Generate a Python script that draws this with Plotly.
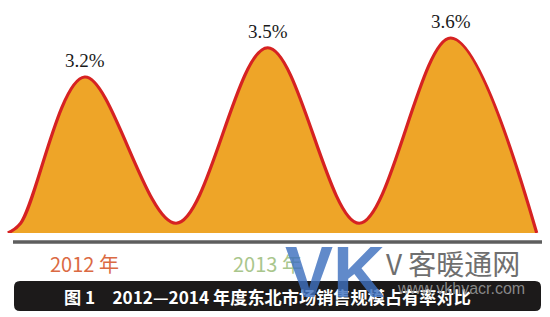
import plotly.graph_objects as go

# ---- data ----
years = ["2012 年", "2013 年", "2014 年"]
shares = [3.2, 3.5, 3.6]
share_labels = ["3.2%", "3.5%", "3.6%"]
year_colors = ["#DB6A43", "#A9C68C", "#6E9FD0"]
caption = "图 1　2012—2014 年度东北市场销售规模占有率对比"

# decorative wave anchors (category-unit positions and value levels)
wave_start, wave_end = -0.42, 2.47
foot_x, foot_level = -0.35, 1.70
trough_level = 1.70
base_level = 1.60

# ---- build wave through the data peaks ----
xs = [wave_start, foot_x]
ys = [base_level, foot_level]
for i, v in enumerate(shares):
    xs.append(i)
    ys.append(v)
    if i < len(shares) - 1:
        xs.append(i + 0.5)
        ys.append(trough_level)
xs.append(wave_end)
ys.append(base_level)

W, H = 550, 317

def px(x):
    return x / W

def py(y):
    return 1 - y / H

fig = go.Figure()
fig.add_trace(go.Scatter(
    x=xs, y=ys, mode="lines",
    line=dict(color="#D62222", width=3.2, shape="spline", smoothing=1.0),
    fill="tozeroy", fillcolor="#EEA528",
    hoverinfo="skip", showlegend=False,
))

annotations = []
for i, (v, lab) in enumerate(zip(shares, share_labels)):
    annotations.append(dict(
        x=i, y=v, xref="x", yref="y", text=lab, showarrow=False,
        yanchor="bottom", yshift=4,
        font=dict(family="Liberation Serif", size=19, color="#1a1a1a"),
    ))
# the third year label is hidden beneath the site watermark in the source
for i, (yr, c) in enumerate(zip(years[:2], year_colors[:2])):
    annotations.append(dict(
        x=i, y=py(263), xref="x", yref="paper", text=yr, showarrow=False,
        xanchor="center", yanchor="middle",
        font=dict(family="Noto Sans CJK SC", size=20, color=c),
    ))

shapes = [
    dict(type="line", xref="paper", yref="paper", x0=px(13), x1=px(542),
         y0=py(242), y1=py(242), line=dict(color="#5E5E5E", width=3.5)),
]
x0, x1, y0, y1, r = 14, 541, 281, 311, 6
path = (f"M {px(x0 + r)} {py(y0)} L {px(x1 - r)} {py(y0)} "
        f"Q {px(x1)} {py(y0)} {px(x1)} {py(y0 + r)} L {px(x1)} {py(y1 - r)} "
        f"Q {px(x1)} {py(y1)} {px(x1 - r)} {py(y1)} L {px(x0 + r)} {py(y1)} "
        f"Q {px(x0)} {py(y1)} {px(x0)} {py(y1 - r)} L {px(x0)} {py(y0 + r)} "
        f"Q {px(x0)} {py(y0)} {px(x0 + r)} {py(y0)} Z")
shapes.append(dict(type="path", xref="paper", yref="paper", path=path,
                   fillcolor="#1C1A1A", line=dict(width=0), layer="above"))

annotations.append(dict(
    x=px(62), y=py(296), xref="paper", yref="paper", text="<b>" + caption + "</b>",
    showarrow=False, xanchor="left", yanchor="middle",
    font=dict(family="Noto Sans CJK SC", size=17.2, color="#FFFFFF"),
))

# watermark overlay
annotations.append(dict(
    x=px(384), y=py(263), xref="paper", yref="paper", text="V 客暖通网",
    showarrow=False, xanchor="left", yanchor="middle",
    font=dict(family="Noto Sans CJK SC", size=28, color="#6F6F6F"),
))
annotations.append(dict(
    x=px(283), y=py(272), xref="paper", yref="paper", text="<b>VK</b>",
    showarrow=False, xanchor="left", yanchor="middle",
    font=dict(family="Liberation Sans", size=72, color="rgba(62,112,190,0.82)"),
))
annotations.append(dict(
    x=px(395), y=py(288), xref="paper", yref="paper", text="www.vkhvacr.com",
    showarrow=False, xanchor="left", yanchor="middle",
    font=dict(family="Liberation Sans", size=16, color="rgba(150,150,150,0.9)"),
))

x_px0, x_scale = 84.7, 183.0
fig.update_layout(
    width=W, height=H,
    margin=dict(l=0, r=0, t=0, b=0),
    paper_bgcolor="white", plot_bgcolor="white",
    xaxis=dict(range=[(0 - x_px0) / x_scale, (W - x_px0) / x_scale],
               domain=[0, 1], visible=False, fixedrange=True),
    yaxis=dict(range=[1.60, 3.99], domain=[1 - 233 / H, 1],
               visible=False, fixedrange=True),
    annotations=annotations, shapes=shapes,
    showlegend=False,
)

fig.write_html("out.html", config={"displayModeBar": False})
